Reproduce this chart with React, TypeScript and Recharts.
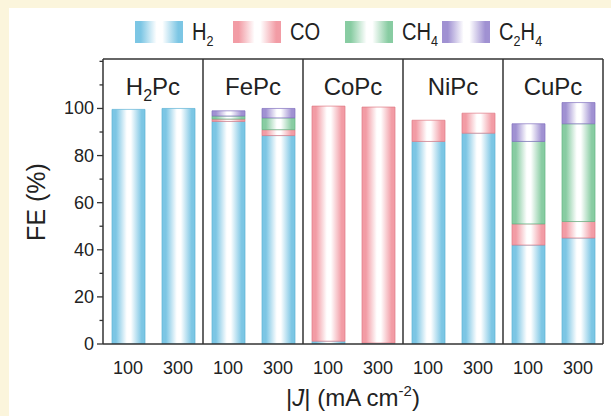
import React from 'react';
import {
  BarChart,
  Bar,
  XAxis,
  YAxis,
  ReferenceLine,
  ReferenceArea,
} from 'recharts';

// catalysts and current densities
const groups = ['H2Pc', 'FePc', 'CoPc', 'NiPc', 'CuPc'];
const currents = ['100', '300'];

// faradaic efficiencies (%), order: H2Pc 100/300, FePc 100/300, ...
const h2 = [99.6, 100, 94.5, 88.5, 1.2, 0.4, 86, 89.5, 42, 45];
const co = [0, 0, 1, 2.5, 99.8, 100.2, 9, 8.5, 9, 7];
const ch4 = [0, 0, 1.3, 5, 0, 0, 0, 0, 35, 41.5];
const c2h4 = [0, 0, 2.2, 4, 0, 0, 0, 0, 7.5, 9];

const yTicks = [0, 10, 20, 30, 40, 50, 60, 70, 80, 90, 100, 110, 120];

// legend label parts: [text, subscript] pairs
const series = [
  { key: 'h2', parts: [['H', '2']], color: '#7CC6E4', edge: '#5DB3D6' },
  { key: 'co', parts: [['CO', '']], color: '#F29CA5', edge: '#E07884' },
  { key: 'ch4', parts: [['CH', '4']], color: '#88CCA2', edge: '#62B483' },
  { key: 'c2h4', parts: [['C', '2'], ['H', '4']], color: '#A091D2', edge: '#8170BE' },
];
const legendX = [135, 233, 345, 442];

const rows = groups.flatMap((g, gi) =>
  currents.map((c, ci) => {
    const i = gi * 2 + ci;
    return { key: `${g}-${c}`, h2: h2[i], co: co[i], ch4: ch4[i], c2h4: c2h4[i] };
  })
);

const FONT = '"Liberation Sans", Arial, sans-serif';
const AXIS = '#333';
const INK = '#222';

const YTick = ({ x, y, payload }: any) => {
  const v = payload.value;
  const major = v % 20 === 0 && v <= 100;
  return (
    <g>
      <line x1={x - (major ? 6 : 3.5)} x2={x} y1={y} y2={y} stroke={AXIS} strokeWidth={1.3} />
      {major && (
        <text x={x - 9} y={y} dy={6} textAnchor="end" fontSize={18} fill={INK} fontFamily={FONT}>
          {v}
        </text>
      )}
    </g>
  );
};

const panelLabel = (g: string) => (props: any) => {
  const vb = props.viewBox;
  const cx = vb.x + vb.width / 2;
  const base = g.startsWith('H2') ? (
    <>
      H<tspan fontSize={16} dy={6}>2</tspan>
      <tspan dy={-6}>Pc</tspan>
    </>
  ) : (
    g
  );
  return (
    <text x={cx} y={vb.y + 36} textAnchor="middle" fontSize={24} fill={INK} fontFamily={FONT}>
      {base}
    </text>
  );
};

const XTitle = (props: any) => {
  const vb = props.viewBox;
  return (
    <text x={vb.x + vb.width / 2} y={vb.y + 62} textAnchor="middle" fontSize={24} fill={INK} fontFamily={FONT}>
      |<tspan fontStyle="italic">J</tspan>| (mA cm
      <tspan fontSize={15} dy={-10}>-2</tspan>
      <tspan dy={10}>)</tspan>
    </text>
  );
};

export default function App() {
  return (
    <div style={{ position: 'fixed', left: 0, top: 0, width: 611, height: 416, background: '#FBF5DC' }}>
      <div style={{ position: 'absolute', left: 9, top: 8, width: 602, height: 408, background: '#fff' }} />

      <div style={{ position: 'absolute', left: 0, top: 0 }}>
        <BarChart width={611} height={416} data={rows} margin={{ top: 59, right: 8, left: 0, bottom: 0 }}>
          <defs>
            {series.map((s) => (
              <linearGradient key={s.key} id={`grad-${s.key}`} x1="0" y1="0" x2="1" y2="0">
                <stop offset="0%" stopColor={s.color} />
                <stop offset="12%" stopColor={s.color} />
                <stop offset="45%" stopColor="#ffffff" />
                <stop offset="57%" stopColor="#ffffff" />
                <stop offset="90%" stopColor={s.color} />
                <stop offset="100%" stopColor={s.color} />
              </linearGradient>
            ))}
          </defs>
          <XAxis
            dataKey="key"
            interval={0}
            height={72}
            tickLine={false}
            tickSize={0}
            tickMargin={17}
            tickFormatter={(v: string) => v.split('-')[1]}
            tick={{ fontSize: 18, fill: INK, fontFamily: FONT }}
            axisLine={{ stroke: AXIS, strokeWidth: 1.5 }}
            label={{ content: XTitle }}
          />
          <YAxis
            width={103}
            domain={[0, 121]}
            ticks={yTicks}
            interval={0}
            allowDataOverflow
            tickLine={false}
            tickSize={0}
            tickMargin={0}
            tick={<YTick />}
            axisLine={{ stroke: AXIS, strokeWidth: 1.5 }}
          />
          {series.map((s) => (
            <Bar
              key={s.key}
              dataKey={s.key}
              stackId="fe"
              barSize={33}
              fill={`url(#grad-${s.key})`}
              stroke={s.edge}
              strokeWidth={0.7}
              isAnimationActive={false}
            />
          ))}
          {groups.slice(1).map((g) => (
            <ReferenceLine key={g} x={`${g}-100`} position="start" stroke={AXIS} strokeWidth={1.5} />
          ))}
          <ReferenceLine x="CuPc-300" position="end" stroke={AXIS} strokeWidth={1.5} />
          <ReferenceLine y={121} stroke={AXIS} strokeWidth={1.5} />
          {groups.map((g) => (
            <ReferenceArea
              key={`area-${g}`}
              x1={`${g}-100`}
              x2={`${g}-300`}
              fill="none"
              stroke="none"
              label={panelLabel(g)}
            />
          ))}
        </BarChart>
      </div>

      {/* legend */}
      <svg width={611} height={52} style={{ position: 'absolute', left: 0, top: 0 }}>
        <defs>
          {series.map((s) => (
            <linearGradient key={s.key} id={`leg-${s.key}`} x1="0" y1="0" x2="1" y2="0">
              <stop offset="0%" stopColor={s.color} />
              <stop offset="12%" stopColor={s.color} />
              <stop offset="45%" stopColor="#ffffff" />
              <stop offset="57%" stopColor="#ffffff" />
              <stop offset="90%" stopColor={s.color} />
              <stop offset="100%" stopColor={s.color} />
            </linearGradient>
          ))}
        </defs>
        {series.map((s, i) => (
          <g key={s.key}>
            <rect x={legendX[i]} y={21} width={48} height={22} fill={`url(#leg-${s.key})`} />
            <text
              transform={`translate(${legendX[i] + 57} 40) scale(0.84 1)`}
              fontSize={24}
              fill={INK}
              fontFamily={FONT}
            >
              {s.parts.map(([t, sub], k) => (
                <React.Fragment key={k}>
                  <tspan dy={k > 0 ? -6 : 0}>{t}</tspan>
                  {sub && (
                    <tspan fontSize={15} dy={6}>
                      {sub}
                    </tspan>
                  )}
                </React.Fragment>
              ))}
            </text>
          </g>
        ))}
      </svg>

      <svg width={80} height={416} style={{ position: 'absolute', left: 0, top: 0 }}>
        <text
          x={45}
          y={202}
          transform="rotate(-90 45 202)"
          textAnchor="middle"
          fontSize={25}
          fill={INK}
          fontFamily={FONT}
        >
          FE (%)
        </text>
      </svg>
    </div>
  );
}
